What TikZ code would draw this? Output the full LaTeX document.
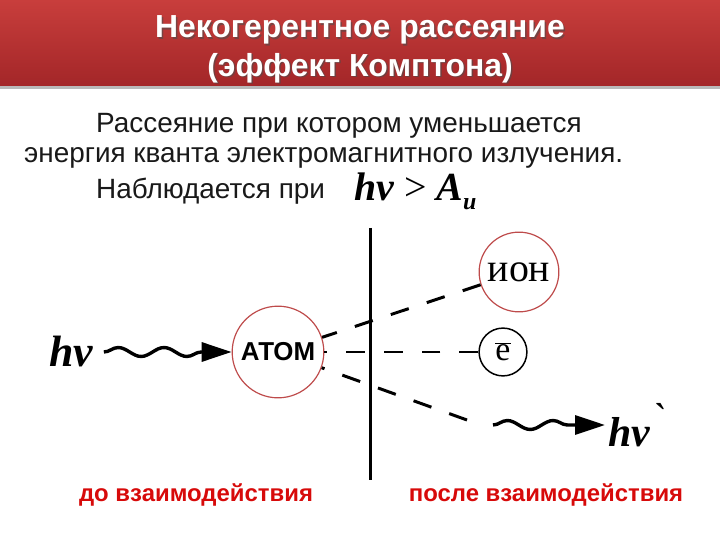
\documentclass[tikz,border=0pt]{standalone}
\usepackage{fontspec}
\setmainfont{Liberation Sans}
\newfontfamily\tms{Liberation Serif}
\usetikzlibrary{calc, backgrounds, decorations.pathmorphing, arrows.meta}
\definecolor{barTop}{RGB}{200,62,60}
\definecolor{barBot}{RGB}{163,38,40}
\definecolor{ringRed}{RGB}{190,75,75}
\definecolor{labRed}{RGB}{215,10,10}
\definecolor{txt}{RGB}{25,25,25}
\tikzstyle{circ}=[circle, draw=ringRed, line width=1.2pt, inner sep=0pt]
\tikzstyle{dline}=[line width=3pt, dash pattern=on 19pt off 19pt]
\tikzstyle{wave}=[line width=3.4pt, decorate, decoration={snake, amplitude=4.5pt, segment length=46pt, post length=30pt}, -{Triangle[length=30pt,width=19pt]}]
\tikzstyle{txtnode}=[inner sep=0pt, text=txt, font=\fontsize{28}{28}\selectfont]

\begin{document}
\begin{tikzpicture}[x=1bp, y=-1bp]
		\useasboundingbox (0,0) rectangle (720,540);
		\fill[top color=barTop, bottom color=barBot] (0,0) rectangle (720,86);
		\fill[gray!55] (0,86) rectangle (720,89);
		
		% title with shadow
		\foreach \tl/\ty in {Некогерентное рассеяние/27, (эффект Комптона)/65}{
			\node[text=black!70, opacity=0.6] at (361.5,\ty+4.5) {\bfseries\fontsize{32}{32}\selectfont \tl};
			\node[text=white] at (360,\ty+3) {\bfseries\fontsize{32}{32}\selectfont \tl};
		}
		
		\node(l1) [txtnode, anchor=west] at (96,126) {Рассеяние при котором уменьшается};
		\node(l2) [txtnode, anchor=west] at (24,158) {энергия кванта электромагнитного излучения.};
		\node(l3) [txtnode, anchor=west] at (96,191) {Наблюдается при};
		\node(cond) [inner sep=0pt, anchor=west] at (354,191) {\tms\fontsize{40}{40}\selectfont\bfseries\itshape hν {\mdseries\upshape >} A\raisebox{-9pt}{\fontsize{24}{24}\selectfont и}};
		
		\coordinate (vtop) at (370,228);
		\coordinate (vbot) at (370,480);
		\draw[line width=3pt] (vtop) -- (vbot);
		
		\node(atom) [circ, minimum size=92pt] at (278,352) {\bfseries\fontsize{26}{26}\selectfont АТОМ};
		\node(ion) [circ, minimum size=80pt] at (519,272) {\tms\fontsize{40}{40}\selectfont ион};
		\node(el) [circ, draw=black, line width=1.5pt, minimum size=48pt] at (503,352) {\tms\fontsize{34}{34}\selectfont $\overline{\hbox{e}}$};
		
		\node(hv1) [inner sep=0pt, outer sep=11pt] at (71,352) {\tms\fontsize{44}{44}\selectfont\bfseries\itshape hν};
		\draw[wave] (hv1) -- (atom);
		
		\draw[dline] (ion) -- (atom);
		\draw[dline] (el) -- (atom);
		\coordinate (bend) at (467,420);
		\draw[dline] (bend) -- (atom);
		
		\coordinate (w2) at (493,425);
		\node(hv2) [inner sep=3pt, anchor=west] at (605,425) {\tms\fontsize{42}{42}\selectfont\bfseries\itshape hν\raisebox{14pt}{\mdseries\char"60}};
		\draw[wave] (w2) -- (hv2);
		
		\node(before) at (196,495) {\color{labRed}\bfseries\fontsize{24}{24}\selectfont до взаимодействия};
		\node(after) at (546,495) {\color{labRed}\bfseries\fontsize{24}{24}\selectfont после взаимодействия};
		
\end{tikzpicture}
\end{document}
